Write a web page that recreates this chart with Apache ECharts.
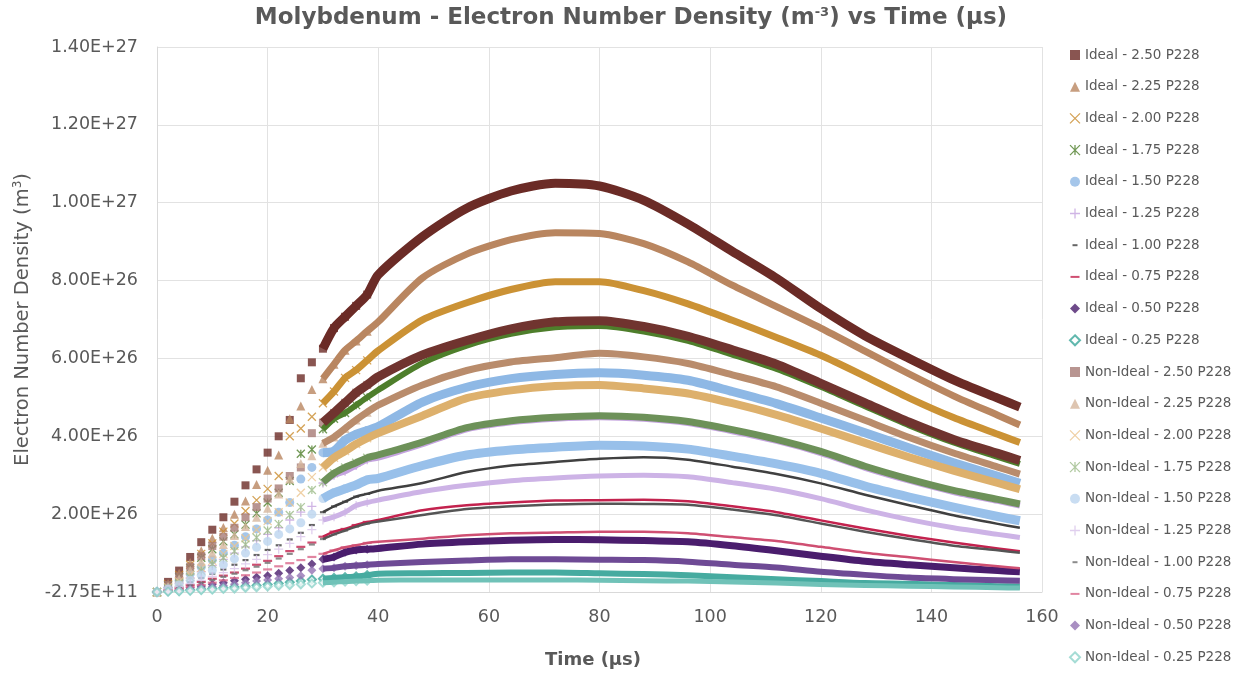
<!DOCTYPE html>
<html>
<head>
<meta charset="utf-8">
<script src="https://cdn.jsdelivr.net/npm/echarts@6/dist/echarts.min.js"></script>
<style>html,body{margin:0;padding:0;background:#fff}#c{width:1240px;height:677px}</style>
</head>
<body>
<div id="c"></div>
<script>
// ---------- DATA (values in units of 1e26 m^-3) ----------
const SCALE = 1e26;
const TIME = [0,2,4,6,8,10,12,14,16,18,20,22,24,26,28,30,32,34,36,38,
              40,48,56,64,72,80,88,96,104,112,120,128,136,144,152,156];

const ideal250 = [0,0.26,0.55,0.90,1.28,1.60,1.92,2.32,2.74,3.15,3.58,4.00,4.42,5.49,5.90,6.25,6.78,7.07,7.35,7.64,
                  8.15,9.13,9.86,10.30,10.50,10.43,10.06,9.45,8.75,8.06,7.28,6.58,6.00,5.45,4.98,4.75];
const ideal225 = [0,0.22,0.48,0.76,1.06,1.38,1.66,2.00,2.34,2.76,3.13,3.52,4.45,4.78,5.20,5.48,5.85,6.21,6.45,6.70,
                  6.94,8.07,8.68,9.05,9.23,9.21,8.95,8.48,7.88,7.33,6.78,6.19,5.60,5.04,4.54,4.29];
const ideal200 = [0,0.20,0.44,0.70,0.98,1.25,1.55,1.76,2.08,2.36,2.65,2.98,4.00,4.20,4.50,4.85,5.15,5.50,5.70,5.95,
                  6.20,6.99,7.43,7.77,7.97,7.97,7.74,7.40,6.98,6.54,6.08,5.54,4.98,4.48,4.05,3.84];
const ideal175 = [0,0.17,0.38,0.62,0.88,1.10,1.30,1.48,1.73,2.02,2.30,2.55,2.85,3.55,3.66,4.18,4.45,4.60,4.80,5.00,
                  5.19,5.88,6.33,6.63,6.80,6.83,6.69,6.45,6.10,5.73,5.27,4.77,4.28,3.84,3.47,3.29];
const ideal150 = [0,0.12,0.28,0.46,0.64,0.82,1.00,1.20,1.42,1.62,1.85,2.05,2.30,2.90,3.20,3.58,3.62,3.90,4.05,4.15,
                  4.25,4.88,5.26,5.48,5.59,5.63,5.57,5.44,5.15,4.84,4.47,4.09,3.70,3.32,2.97,2.79];
const ideal125 = [0,0.10,0.22,0.36,0.52,0.68,0.84,1.00,1.16,1.32,1.48,1.65,1.85,2.05,2.20,2.80,3.00,3.10,3.25,3.40,
                  3.45,3.80,4.18,4.36,4.45,4.49,4.45,4.34,4.13,3.88,3.57,3.19,2.86,2.57,2.34,2.22];
const ideal100 = [0,0.07,0.15,0.25,0.36,0.47,0.58,0.70,0.82,0.95,1.08,1.20,1.35,1.52,1.72,2.05,2.20,2.32,2.45,2.52,
                  2.60,2.80,3.08,3.25,3.34,3.42,3.46,3.40,3.22,3.03,2.79,2.50,2.23,1.97,1.75,1.65];
const ideal075 = [0,0.05,0.11,0.18,0.26,0.34,0.42,0.50,0.60,0.70,0.80,0.92,1.05,1.16,1.27,1.42,1.55,1.62,1.72,1.80,
                  1.85,2.10,2.23,2.30,2.35,2.36,2.37,2.33,2.20,2.05,1.84,1.63,1.44,1.27,1.12,1.05];
const ideal050 = [0,0.03,0.07,0.11,0.15,0.20,0.24,0.29,0.33,0.38,0.42,0.48,0.55,0.62,0.72,0.84,0.90,1.02,1.08,1.10,
                  1.12,1.23,1.29,1.33,1.35,1.34,1.32,1.29,1.19,1.06,0.92,0.79,0.70,0.62,0.55,0.52];
const ideal025 = [0,0.02,0.03,0.05,0.07,0.09,0.11,0.13,0.15,0.17,0.19,0.22,0.25,0.28,0.32,0.34,0.36,0.38,0.40,0.43,
                  0.47,0.48,0.49,0.50,0.50,0.48,0.46,0.43,0.38,0.33,0.28,0.23,0.21,0.18,0.15,0.14];
const nonIdeal250 = [0,0.18,0.40,0.65,0.92,1.18,1.42,1.65,1.92,2.18,2.40,2.66,2.98,3.20,4.08,4.35,4.60,4.86,5.12,5.32,
                  5.53,6.09,6.46,6.76,6.94,6.97,6.82,6.57,6.22,5.85,5.36,4.86,4.36,3.92,3.56,3.38];
const nonIdeal225 = [0,0.15,0.34,0.56,0.78,1.00,1.22,1.45,1.68,1.92,2.15,2.52,2.90,3.30,3.50,3.82,3.98,4.20,4.42,4.62,
                  4.80,5.32,5.69,5.91,6.02,6.13,6.04,5.87,5.58,5.27,4.85,4.41,3.97,3.57,3.21,3.03];
const nonIdeal200 = [0,0.12,0.27,0.44,0.62,0.80,0.98,1.18,1.38,1.60,1.82,2.05,2.30,2.55,2.95,3.20,3.45,3.62,3.80,3.95,
                  4.08,4.53,4.98,5.18,5.29,5.32,5.23,5.10,4.85,4.55,4.20,3.83,3.46,3.12,2.80,2.64];
const nonIdeal175 = [0,0.10,0.23,0.38,0.55,0.72,0.88,1.05,1.22,1.40,1.58,1.75,1.98,2.18,2.62,2.82,3.05,3.20,3.32,3.45,
                  3.52,3.85,4.22,4.40,4.49,4.53,4.49,4.38,4.17,3.92,3.61,3.23,2.90,2.61,2.38,2.26];
const nonIdeal150 = [0,0.08,0.18,0.30,0.43,0.56,0.70,0.85,1.00,1.15,1.30,1.48,1.62,1.78,2.00,2.40,2.55,2.65,2.75,2.88,
                  2.92,3.25,3.52,3.65,3.72,3.77,3.75,3.67,3.49,3.29,3.05,2.72,2.44,2.18,1.94,1.83];
const nonIdeal125 = [0,0.06,0.13,0.21,0.30,0.40,0.50,0.60,0.72,0.84,0.96,1.10,1.25,1.42,1.60,1.85,1.93,2.05,2.22,2.30,
                  2.36,2.58,2.74,2.86,2.93,2.98,3.00,2.96,2.81,2.64,2.40,2.11,1.86,1.65,1.48,1.40];
const nonIdeal100 = [0,0.05,0.10,0.17,0.24,0.31,0.39,0.47,0.56,0.65,0.75,0.86,0.98,1.10,1.22,1.36,1.48,1.58,1.68,1.76,
                  1.81,1.98,2.13,2.20,2.25,2.27,2.26,2.24,2.12,1.97,1.76,1.55,1.36,1.19,1.07,1.01];
const nonIdeal075 = [0,0.04,0.08,0.13,0.18,0.24,0.30,0.36,0.43,0.50,0.58,0.66,0.74,0.82,0.90,0.98,1.07,1.15,1.20,1.26,
                  1.29,1.37,1.46,1.51,1.53,1.55,1.55,1.51,1.41,1.31,1.16,1.01,0.89,0.77,0.66,0.61];
const nonIdeal050 = [0,0.02,0.05,0.08,0.11,0.14,0.17,0.20,0.24,0.28,0.31,0.34,0.37,0.42,0.56,0.60,0.62,0.66,0.68,0.70,
                  0.72,0.77,0.81,0.84,0.84,0.83,0.82,0.78,0.70,0.63,0.52,0.44,0.37,0.33,0.30,0.29];
const nonIdeal025 = [0,0.01,0.02,0.03,0.05,0.06,0.08,0.09,0.11,0.12,0.14,0.16,0.18,0.20,0.22,0.24,0.25,0.27,0.28,0.29,
                  0.30,0.31,0.31,0.31,0.31,0.30,0.29,0.28,0.26,0.23,0.19,0.17,0.15,0.13,0.11,0.10];

const SERIES_NAMES = [
  'Ideal - 2.50 P228','Ideal - 2.25 P228','Ideal - 2.00 P228','Ideal - 1.75 P228','Ideal - 1.50 P228',
  'Ideal - 1.25 P228','Ideal - 1.00 P228','Ideal - 0.75 P228','Ideal - 0.50 P228','Ideal - 0.25 P228',
  'Non-Ideal - 2.50 P228','Non-Ideal - 2.25 P228','Non-Ideal - 2.00 P228','Non-Ideal - 1.75 P228','Non-Ideal - 1.50 P228',
  'Non-Ideal - 1.25 P228','Non-Ideal - 1.00 P228','Non-Ideal - 0.75 P228','Non-Ideal - 0.50 P228','Non-Ideal - 0.25 P228'
];
const SERIES_VALUES = [ideal250,ideal225,ideal200,ideal175,ideal150,ideal125,ideal100,ideal075,ideal050,ideal025,
  nonIdeal250,nonIdeal225,nonIdeal200,nonIdeal175,nonIdeal150,nonIdeal125,nonIdeal100,nonIdeal075,nonIdeal050,nonIdeal025];

const X_MIN = 0, X_MAX = 160, X_STEP = 20;
const Y_MIN = -2.75e11, Y_MAX = 1.4e27, Y_STEP = 2e26;

// ---------- STYLES ----------
const X_PATH = 'path://M0,0L10,10M10,0L0,10';
const AST_PATH = 'path://M0,0L10,10M10,0L0,10M5,0L5,10';
const PLUS_PATH = 'path://M5,0L5,10M0,5L10,5';
const DASH_S = 'path://M0,0M10,10M2.5,4L7.5,4L7.5,6L2.5,6Z';
const DASH_L = 'path://M0,0M10,10M0.5,4L9.5,4L9.5,6L0.5,6Z';
const STYLE = [
 {sym:'rect', size:8, mark:'#6B2B26', band:'#6B2B26', w:9},
 {sym:'triangle', size:9, mark:'#B98660', band:'#B98660', w:7},
 {sym:X_PATH, size:8, mark:'#C98B2C', band:'#CB9235', w:7, stroke:true},
 {sym:AST_PATH, size:8, mark:'#4E7E2B', band:'#4E7E2B', w:6, stroke:true},
 {sym:'circle', size:9, mark:'#8EB8E5', band:'#8EB8E5', w:9},
 {sym:PLUS_PATH, size:9, mark:'#C4A3DF', band:'#C4A3DF', w:6, stroke:true},
 {sym:'rect', size:[6,2.2], icon:DASH_S, mark:'#3F3F3F', band:'#404040', w:2.5},
 {sym:'rect', size:[9,2.2], icon:DASH_L, mark:'#C3224E', band:'#C3224E', w:2.5},
 {sym:'diamond', size:9, mark:'#4A1D6D', band:'#4A1D6D', w:7},
 {sym:'emptyDiamond', size:8, mark:'#3AA69A', band:'#46ABA0', w:6},
 {sym:'rect', size:8, mark:'#A67B76', band:'#70342F', w:9},
 {sym:'triangle', size:9, mark:'#D6B69D', band:'#B98C6C', w:7},
 {sym:X_PATH, size:8, mark:'#EBC48F', band:'#DDB06C', w:8, stroke:true},
 {sym:AST_PATH, size:8, mark:'#9CBB88', band:'#6D9159', w:7, stroke:true},
 {sym:'circle', size:9, mark:'#BCD5EF', band:'#98C0EA', w:9},
 {sym:PLUS_PATH, size:9, mark:'#D8C3EA', band:'#CDB3E6', w:5, stroke:true},
 {sym:'rect', size:[6,2.2], icon:DASH_S, mark:'#6E6E6E', band:'#555555', w:2.5},
 {sym:'rect', size:[9,2.2], icon:DASH_L, mark:'#D9678A', band:'#CF4F72', w:2.5},
 {sym:'diamond', size:9, mark:'#9373B3', band:'#6E4A95', w:6},
 {sym:'emptyDiamond', size:8, mark:'#8ED3CA', band:'#70C2B8', w:5}
];

const MARK_UNTIL = 38;   // sparse individual markers
const BAND_FROM = 30;    // dense overlapping markers drawn as a band
const FONT = 'DejaVu Sans';
const TXT = '#595959';

function markStyle(st) {
  if (st.stroke || st.sym.indexOf('empty') === 0) {
    return {color: st.mark, borderColor: st.mark, borderWidth: 1.3};
  }
  return {color: st.mark, borderWidth: 0};
}

const series = [];
SERIES_NAMES.forEach((name, i) => {
  const st = STYLE[i];
  const pts = TIME.map((t, k) => [t, SERIES_VALUES[i][k] * SCALE]);
  series.push({
    type: 'line', name: name + ' (band)',
    data: pts.filter(p => p[0] >= BAND_FROM),
    symbol: 'none', showSymbol: false, smooth: 0.25,
    lineStyle: {color: st.band, width: st.w, cap: 'butt', join: 'round'},
    silent: true, animation: false
  });
  series.push({
    type: 'scatter', name: name,
    data: pts.filter(p => p[0] <= MARK_UNTIL),
    symbol: st.sym, symbolSize: st.size,
    itemStyle: markStyle(st),
    silent: true, animation: false
  });
});

const legendData = SERIES_NAMES.map((n, i) => ({
  name: n, icon: STYLE[i].icon || STYLE[i].sym, itemStyle: markStyle(STYLE[i])
}));

const chart = echarts.init(document.getElementById('c'), null, {renderer: 'canvas'});
chart.setOption({
  animation: false,
  backgroundColor: '#fff',
  title: {
    text: 'Molybdenum - Electron Number Density (m{sup|-3}) vs Time (µs)',
    left: 626, top: 1, textAlign: 'center',
    textStyle: {
      fontFamily: FONT, fontSize: 23, fontWeight: 'bold', color: TXT,
      rich: {sup: {fontFamily: FONT, fontSize: 13, fontWeight: 'bold', color: TXT, padding: [0, 0, 11, 0]}}
    }
  },
  legend: {
    orient: 'vertical', left: 1069, top: 48, padding: 0,
    itemWidth: 10, itemHeight: 10, itemGap: 17.7, itemTextGap: 4,
    textStyle: {fontFamily: FONT, fontSize: 13.5, color: TXT},
    data: legendData,
    selectedMode: false
  },
  grid: {left: 157, right: 198, top: 47, bottom: 85, containLabel: false},
  xAxis: {
    type: 'value', min: X_MIN, max: X_MAX, interval: X_STEP,
    name: 'Time (µs)', nameLocation: 'middle', nameGap: 59,
    nameTextStyle: {fontFamily: FONT, fontSize: 18, fontWeight: 'bold', color: TXT, padding: [0, 13, 0, 0]},
    axisLine: {show: true, lineStyle: {color: '#D9D9D9', width: 1}},
    axisTick: {show: false},
    axisLabel: {fontFamily: FONT, fontSize: 17.5, color: TXT, margin: 16},
    splitLine: {show: true, lineStyle: {color: '#E2E2E2', width: 1}}
  },
  yAxis: {
    type: 'value', min: Y_MIN, max: Y_MAX, interval: Y_STEP,
    name: 'Electron Number Density (m{sup|3})', nameLocation: 'middle', nameGap: 124, nameRotate: 90,
    nameTextStyle: {fontFamily: FONT, fontSize: 19.5, color: TXT,
      rich: {sup: {fontFamily: FONT, fontSize: 12, color: TXT, padding: [0, 0, 9, 0]}}},
    axisLine: {show: true, lineStyle: {color: '#D9D9D9', width: 1}},
    axisTick: {show: false},
    axisLabel: {fontFamily: FONT, fontSize: 17.5, color: TXT, margin: 19,
      formatter: v => v.toExponential(2).toUpperCase()},
    splitLine: {show: true, lineStyle: {color: '#E2E2E2', width: 1}}
  },
  series: series
});
</script>
</body>
</html>
